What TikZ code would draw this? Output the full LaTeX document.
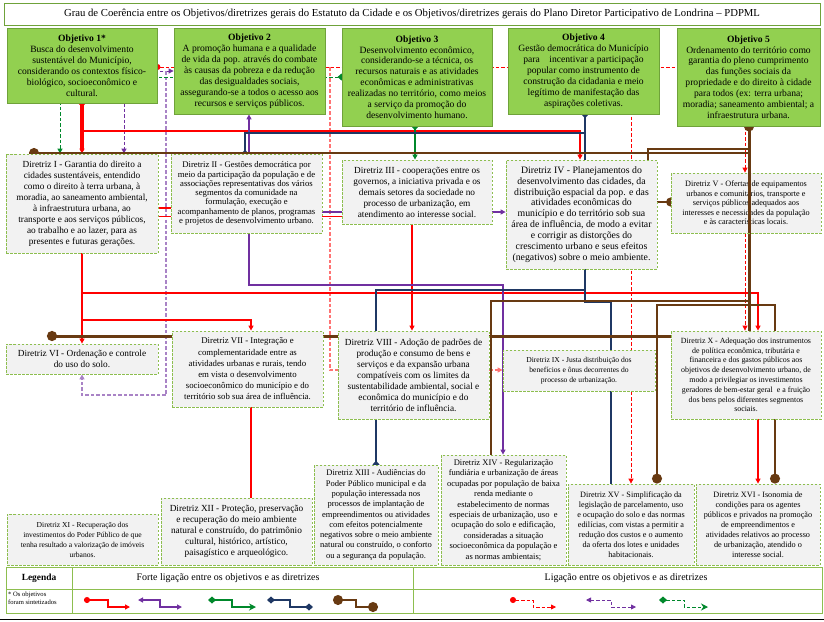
\documentclass[tikz,border=0pt]{standalone}
\usepackage{fontspec}
\setmainfont{Liberation Serif}
\usetikzlibrary{arrows.meta}

\definecolor{objgreen}{HTML}{92D050}
\definecolor{objline}{HTML}{6FA23A}
\definecolor{dirline}{HTML}{8DBE4F}
\definecolor{dirfill}{HTML}{F2F2F2}
\definecolor{lkred}{HTML}{FF0000}
\definecolor{lkpurple}{HTML}{7030A0}
\definecolor{lkgreen}{HTML}{00882B}
\definecolor{lknavy}{HTML}{1F3864}
\definecolor{lkbrown}{HTML}{683A12}

\pgfdeclarelayer{back}
\pgfsetlayers{back,main}

\newcommand{\fsz}[2]{\fontsize{#1}{#2}\selectfont}

\tikzset{
  lkTri/.tip={Triangle[length=5pt,width=5pt]},
  lkDot/.tip={Circle[length=6pt]},
  lkDia/.tip={Diamond[length=8pt,width=7pt]},
  lkBall/.tip={Circle[length=10pt]},
  objbox/.style={draw=objline, fill=objgreen, line width=0.8pt, align=center,
    inner sep=1pt, font=\fsz{9.6}{10.9}},
  dirbox/.style={draw=dirline, fill=dirfill, line width=0.8pt,
    dash pattern=on 2.5pt off 1.5pt, align=center, inner sep=1pt},
  fbig/.style={font=\fsz{9.3}{11}},
  strong/.style={line width=1.6pt},
  weak/.style={line width=0.8pt, dash pattern=on 3.5pt off 2pt},
}

\begin{document}
\begin{tikzpicture}[x=1pt, y=-1pt]
\useasboundingbox (0,0) rectangle (824,621);

% ---------------- title ----------------
\node[draw=objline, line width=0.6pt, minimum width=816, minimum height=22,
      font=\fsz{10.7}{11}] (title) at (412,14)
  {Grau de Coerência entre os Objetivos/diretrizes gerais do Estatuto da Cidade e os Objetivos/diretrizes gerais do Plano Diretor Participativo de Londrina – PDPML};

% ---------------- objetivos ----------------
\node[objbox, minimum width=150, minimum height=75] (o1) at (82,65.5)
  {\textbf{Objetivo 1*}\\Busca do desenvolvimento\\sustentável do Município,\\considerando os contextos físico-\\biológico, socioeconômico e\\cultural.};
\node[objbox, minimum width=151, minimum height=86] (o2) at (249.5,71)
  {\textbf{Objetivo 2}\\A promoção humana e a qualidade\\de vida da pop. através do combate\\às causas da pobreza e da redução\\das desigualdades sociais,\\assegurando-se a todos o acesso aos\\recursos e serviços públicos.};
\node[objbox, minimum width=150, minimum height=98] (o3) at (417,77)
  {\textbf{Objetivo 3}\\Desenvolvimento econômico,\\considerando-se a técnica, os\\recursos naturais e as atividades\\econômicas e administrativas\\realizadas no território, como meios\\a serviço da promoção do\\desenvolvimento humano.};
\node[objbox, minimum width=151, minimum height=86] (o4) at (583.5,71)
  {\textbf{Objetivo 4}\\Gestão democrática do Município\\para\quad incentivar a participação\\popular como instrumento de\\construção da cidadania e meio\\legítimo de manifestação das\\aspirações coletivas.};
\node[objbox, minimum width=143, minimum height=98] (o5) at (748.5,77)
  {\textbf{Objetivo 5}\\Ordenamento do território como\\garantia do pleno cumprimento\\das funções sociais da\\propriedade e do direito à cidade\\para todos (ex: terra urbana;\\moradia; saneamento ambiental; a\\infraestrutura urbana.};

% ---------------- diretrizes ----------------
\node[dirbox, fbig, minimum width=152, minimum height=99] (d1) at (82,203.5)
  {Diretriz I - Garantia do direito a\\cidades sustentáveis, entendido\\como o direito à terra urbana, à\\moradia, ao saneamento ambiental,\\à infraestrutura urbana, ao\\transporte e aos serviços públicos,\\ao trabalho e ao lazer, para as\\presentes e futuras gerações.};
\node[dirbox, font=\fsz{8.7}{9.3}, minimum width=151, minimum height=79] (d2) at (246.5,193.5)
  {Diretriz II - Gestões democrática por\\meio da participação da população e de\\associações representativas dos vários\\segmentos da comunidade na\\formulação, execução e\\acompanhamento de planos, programas\\e projetos de desenvolvimento urbano.};
\node[dirbox, fbig, minimum width=150, minimum height=64] (d3) at (417,192)
  {Diretriz III - cooperações entre os\\governos, a iniciativa privada e os\\demais setores da sociedade no\\processo de urbanização, em\\atendimento ao interesse social.};
\node[dirbox, font=\fsz{9.8}{10.9}, minimum width=151, minimum height=109] (d4) at (581.5,214.5)
  {Diretriz IV - Planejamentos do\\desenvolvimento das cidades, da\\distribuição espacial da pop. e das\\atividades econômicas do\\município e do território sob sua\\área de influência, de modo a evitar\\e corrigir as distorções do\\crescimento urbano e seus efeitos\\(negativos) sobre o meio ambiente.};
\node[dirbox, font=\fsz{8.2}{9.5}, minimum width=150, minimum height=60] (d5) at (746,203)
  {Diretriz V - Ofertas de equipamentos\\urbanos e comunitários, transporte e\\serviços públicos adequados aos\\interesses e necessidades da população\\e às características locais.};
\node[dirbox, fbig, minimum width=152, minimum height=30] (d6) at (82,359)
  {Diretriz VI - Ordenação e controle\\do uso do solo.};
\node[dirbox, font=\fsz{8.8}{11.2}, minimum width=151, minimum height=76] (d7) at (247.5,369)
  {Diretriz VII - Integração e\\complementaridade entre as\\atividades urbanas e rurais, tendo\\em vista o desenvolvimento\\socioeconômico do município e do\\território sob sua área de influência.};
\node[dirbox, fbig, minimum width=151, minimum height=88] (d8) at (413.5,375)
  {Diretriz VIII - Adoção de padrões de\\produção e consumo de bens e\\serviços e da expansão urbana\\compatíveis com os limites da\\sustentabilidade ambiental, social e\\econômica do município e do\\território de influência.};
\node[dirbox, font=\fsz{7.6}{10}, minimum width=152, minimum height=41] (d9) at (579,370.5)
  {Diretriz IX - Justa distribuição dos\\benefícios e ônus decorrentes do\\processo de urbanização.};
\node[dirbox, font=\fsz{7.9}{9.8}, minimum width=150, minimum height=88] (d10) at (746,375)
  {Diretriz X - Adequação dos instrumentos\\de política econômica, tributária e\\financeira e dos gastos públicos aos\\objetivos de desenvolvimento urbano, de\\modo a privilegiar os investimentos\\geradores de bem-estar geral\ \ e a fruição\\dos bens pelos diferentes segmentos\\sociais.};
\node[dirbox, font=\fsz{7.6}{10}, minimum width=151, minimum height=51] (d11) at (82.5,539.5)
  {Diretriz XI - Recuperação dos\\investimentos do Poder Público de que\\tenha resultado a valorização de imóveis\\urbanos.};
\node[dirbox, fbig, minimum width=151, minimum height=67] (d12) at (236.5,531.5)
  {Diretriz XII - Proteção, preservação\\e recuperação do meio ambiente\\natural e construído, do patrimônio\\cultural, histórico, artístico,\\paisagístico e arqueológico.};
\node[dirbox, font=\fsz{8.5}{10.3}, minimum width=124, minimum height=100] (d13) at (376,515)
  {Diretriz XIII - Audiências do\\Poder Público municipal e da\\população interessada nos\\processos de implantação de\\empreendimentos ou atividades\\com efeitos potencialmente\\negativos sobre o meio ambiente\\natural ou construído, o conforto\\ou a segurança da população.};
\node[dirbox, font=\fsz{8.5}{10.4}, minimum width=125, minimum height=110] (d14) at (503.5,510)
  {Diretriz XIV - Regularização\\fundiária e urbanização de áreas\\ocupadas por população de baixa\\renda mediante o\\estabelecimento de normas\\especiais de urbanização, uso\ \ e\\ocupação do solo e edificação,\\consideradas a situação\\socioeconômica da população e\\as normas ambientais;};
\node[dirbox, font=\fsz{8.2}{10}, minimum width=126, minimum height=81] (d15) at (631,524.5)
  {Diretriz XV - Simplificação da\\legislação de parcelamento, uso\\e ocupação do solo e das normas\\edilícias, com vistas a permitir a\\redução dos custos e o aumento\\da oferta dos lotes e unidades\\habitacionais.};
\node[dirbox, font=\fsz{8.2}{10}, minimum width=124, minimum height=81] (d16) at (758,524.5)
  {Diretriz XVI - Isonomia de\\condições para os agentes\\públicos e privados na promoção\\de empreendimentos e\\atividades relativos ao processo\\de urbanização, atendido o\\interesse social.};

\begin{pgfonlayer}{back}
% weak links (dashed)
\draw[weak, lkred, {lkDot}-, shorten <=-3pt] (o1.east |- 0,67) -- (o5.west |- 0,67);
\draw[weak, red!55, line width=1.4pt, -{lkTri}] (330,67) -- (330,370) -- (d9.west |- 0,370);
\draw[weak, lkred, -{lkTri}] (631,67) -- (631,0 |- d15.north);
\draw[weak, lkred, -{lkTri}] (745,0 |- o5.south) -- (745,0 |- d5.north);
\draw[weak, lkred, -{lkTri}] (745,0 |- d5.south) -- (745,0 |- d10.north);
\draw[weak, lkpurple, {lkTri}-{lkTri}] (o2.west |- 0,71) -- (124,71) -- (124,0 |- d1.north);
\draw[weak, lkpurple!60, line width=1.3pt, -{lkTri}] (166,71) -- (166,395) -- (82,395) -- (82,0 |- d6.south);
\draw[weak, lkgreen, {lkDia}-{lkTri}, shorten <=-4pt] (o3.west |- 0,77) -- (60,77) -- (60,0 |- d1.north);

% strong links: red
\draw[strong, lkred, line width=3.2pt, {lkDot}-{lkTri}, shorten <=-3pt] (82,0 |- o1.south) -- (82,0 |- d1.north);
\draw[strong, lkred, -{lkTri}] (82,131) -- (580,131) -- (580,0 |- d4.north);
\draw[strong, lkred, line width=2.4pt, -{lkTri}] (82,0 |- d1.south) -- (82,0 |- d6.north);
\draw[strong, lkred, -{lkTri}] (82,293) -- (758,293) -- (758,0 |- d10.north);
\draw[strong, lkred, -{lkTri}] (82,320) -- (251,320) -- (251,0 |- d7.north);
\draw[strong, lkred] (251,0 |- d7.south) -- (251,0 |- d12.north);
\draw[strong, lkred, -{lkTri}] (758,0 |- d10.south) -- (758,0 |- d16.north);
\draw[strong, lkred, -{lkTri}] (412,0 |- d3.south) -- (412,0 |- d8.north);
\draw[strong, lkred] (d1.east |- 0,208) -- (d2.west |- 0,208);
\draw[lkred, double=white, double distance=1pt, line width=0.8pt] (d1.east |- 0,217) -- (d3.west |- 0,217);

% strong links: purple
\draw[strong, lkpurple, -{lkTri}] (249,0 |- d2.north) -- (249,0 |- o2.south);
\draw[strong, lkpurple, -{lkTri}] (249,0 |- d2.south) -- (249,285) -- (503,285) -- (503,0 |- d14.north);
\draw[strong, lkpurple, -{lkTri}] (d2.east |- 0,212) -- (d4.west |- 0,212);

% strong links: green
\draw[strong, lkgreen, {lkDia}-{lkTri}, shorten <=-4pt] (415,0 |- o3.south) -- (415,0 |- d3.north);

% strong links: navy
\draw[strong, lknavy, {lkDia}-{lkDia}, shorten <=-4pt, shorten >=-4pt]
  (585,0 |- o4.south) -- (585,133) -- (245,133) -- (245,0 |- d2.north);
\draw[strong, lknavy] (585,133) -- (585,0 |- d4.north);
\draw[strong, lknavy, -{lkDia}, shorten >=-4pt] (585,0 |- d4.south) -- (585,290) -- (376,290) -- (376,0 |- d13.north);
\draw[strong, lknavy] (585,290) -- (585,302) -- (611,302) -- (611,0 |- d15.north);

% strong links: brown
\draw[strong, lkbrown, line width=3pt, {lkBall}-{lkBall}, shorten <=-5pt]
  (749,0 |- o5.south) -- (749,336) -- (47,336);
\draw[strong, lkbrown, -{lkBall}, shorten >=-5pt] (749,153) -- (34,153);
\draw[strong, lkbrown] (749,149) -- (648,149) -- (648,0 |- d4.north);
\draw[strong, lkbrown, -{Circle[length=9pt]}, shorten >=-4.5pt] (d4.east |- 0,202) -- (d5.west |- 0,202);
\draw[strong, lkbrown] (749,301) -- (491,301) -- (491,0 |- d14.north);
\draw[strong, lkbrown, -{lkBall}] (775,305) -- (657,305) -- (657,0 |- d15.north);
\draw[strong, lkbrown, -{lkBall}] (749,305) -- (775,305) -- (775,0 |- d16.north);
\end{pgfonlayer}

% brown trunk runs over Diretriz V
\draw[lkbrown, line width=3pt] (749,0 |- d5.north) -- (749,0 |- d5.south);

% ---------------- legenda ----------------
\draw[dirline, line width=0.8pt] (6,567) rectangle (822,613);
\draw[dirline, line width=0.8pt] (72,567) -- (72,613) (413,567) -- (413,613) (6,589) -- (822,589);
\node[font=\bfseries\fsz{9.4}{11}] (leg) at (39,578) {Legenda};
\node[font=\fsz{10}{11}] (legstrong) at (228,578) {Forte ligação entre os objetivos e as diretrizes};
\node[font=\fsz{10}{11}] (legweak) at (626,578) {Ligação entre os objetivos e as diretrizes};
\node[font=\fsz{6.6}{7.6}, align=left, anchor=north west, inner sep=0pt] (legnote) at (8,592)
  {* Os objetivos\\foram sintetizados};
\draw[strong, lkred, {lkDot}-{lkTri}] (84,600) -- (108,600) -- (108,607) -- (130,607);
\draw[strong, lkpurple, {lkTri}-{lkTri}] (138,600) -- (160,600) -- (160,607) -- (182,607);
\draw[strong, lkgreen, {lkDia}-{Stealth[length=7pt,width=7pt]}] (208,600) -- (232,600) -- (232,607) -- (256,607);
\draw[strong, lknavy, {lkDia}-{lkDia}] (267,600) -- (290,600) -- (290,607) -- (313,607);
\draw[strong, lkbrown, {lkBall}-{lkBall}] (333,600) -- (356,600) -- (356,607) -- (378,607);
\draw[weak, lkred, {lkDot}-{lkTri}] (510,600) -- (533,600) -- (533,607) -- (556,607);
\draw[weak, lkpurple, {lkTri}-{lkTri}] (586,600) -- (611,600) -- (611,607) -- (636,607);
\draw[weak, lkgreen, {lkDia}-{Stealth[length=7pt,width=7pt]}] (659,600) -- (684,600) -- (684,607) -- (708,607);
\draw[line width=1.5pt] (0,619.5) -- (824,619.5);
\end{tikzpicture}
\end{document}
